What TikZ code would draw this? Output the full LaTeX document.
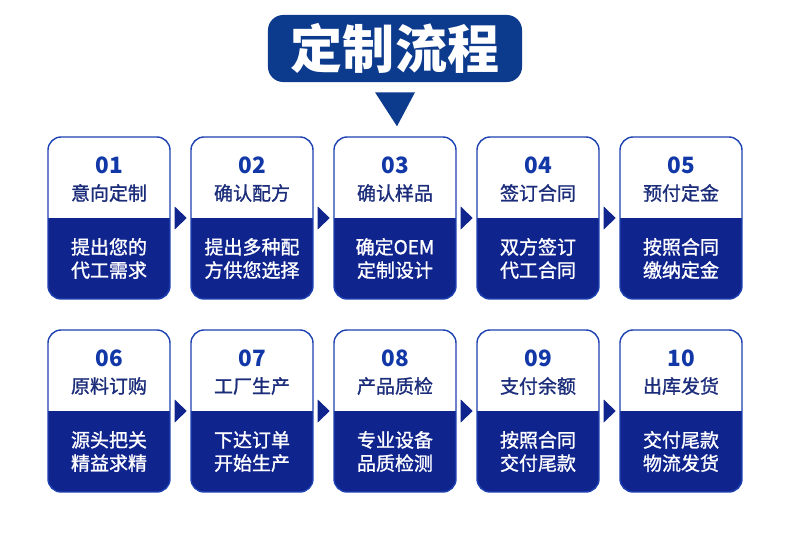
\documentclass[tikz,border=0pt]{standalone}
\usepackage{fontspec}
\setmainfont{Noto Sans CJK SC}
\newfontfamily\cjkmed[FakeBold=1.2]{Noto Sans CJK SC}
\usetikzlibrary{calc}
\definecolor{headblue}{RGB}{12,58,140}
\definecolor{cardblue}{RGB}{16,36,142}
\definecolor{edgeblue}{RGB}{30,66,178}
\definecolor{numblue}{RGB}{18,56,168}
\definecolor{stepnavy}{RGB}{27,44,122}
\begin{document}
\begin{tikzpicture}[x = 0.025cm, y = -0.025cm,
                        head/.style = {rectangle, rounded corners = 0.38cm, fill = headblue, text = white,
                                       minimum width = 6.35cm, minimum height = 1.675cm,
                                       font = \fontsize{37}{40}\selectfont\bfseries},
                        card/.style = {rectangle, rounded corners = 0.33cm, draw = edgeblue, line width = 1pt,
                                       fill = white, minimum width = 3.05cm, minimum height = 4.05cm,
                                       path picture = {\fill [cardblue, sharp corners] (path picture bounding box.west)
                                                       rectangle (path picture bounding box.south east);}},
                        num/.style = {text = numblue, font = \fontsize{16}{18}\selectfont\bfseries},
                        stepname/.style = {text = stepnavy, font = \fontsize{13.5}{16}\selectfont\cjkmed},
                        body/.style = {text = white, align = center, font = \fontsize{13.5}{16.5}\selectfont\cjkmed},
                        tip/.style = {fill = cardblue}]
      \useasboundingbox (0, 0) rectangle (790, 540);
      \node [head] (title) at (395, 48.5){定制流程};
      \fill [tip, fill = headblue] ($(title.south) + (-20, 10)$) -- ($(title.south) + (20, 10)$) -- ($(title.south) + (2, 44)$) -- cycle;
      % first row
      \node [card] (c1) at (109, 218){};
      \node [card] (c2) at (252, 218){};
      \node [card] (c3) at (395, 218){};
      \node [card] (c4) at (538, 218){};
      \node [card] (c5) at (681, 218){};
      \node [num] (n1) at (109, 165){01};
      \node [num] (n2) at (252, 165){02};
      \node [num] (n3) at (395, 165){03};
      \node [num] (n4) at (538, 165){04};
      \node [num] (n5) at (681, 165){05};
      \node [stepname] (s1) at (109, 193){意向定制};
      \node [stepname] (s2) at (252, 193){确认配方};
      \node [stepname] (s3) at (395, 193){确认样品};
      \node [stepname] (s4) at (538, 193){签订合同};
      \node [stepname] (s5) at (681, 193){预付定金};
      \node [body] (b1) at (109, 258.5){提出您的\\代工需求};
      \node [body] (b2) at (252, 258.5){提出多种配\\方供您选择};
      \node [body] (b3) at (395, 258.5){确定OEM\\定制设计};
      \node [body] (b4) at (538, 258.5){双方签订\\代工合同};
      \node [body] (b5) at (681, 258.5){按照合同\\缴纳定金};
      % second row
      \node [card] (c6) at (109, 411){};
      \node [card] (c7) at (252, 411){};
      \node [card] (c8) at (395, 411){};
      \node [card] (c9) at (538, 411){};
      \node [card] (c10) at (681, 411){};
      \node [num] (n6) at (109, 358){06};
      \node [num] (n7) at (252, 358){07};
      \node [num] (n8) at (395, 358){08};
      \node [num] (n9) at (538, 358){09};
      \node [num] (n10) at (681, 358){10};
      \node [stepname] (s6) at (109, 386){原料订购};
      \node [stepname] (s7) at (252, 386){工厂生产};
      \node [stepname] (s8) at (395, 386){产品质检};
      \node [stepname] (s9) at (538, 386){支付余额};
      \node [stepname] (s10) at (681, 386){出库发货};
      \node [body] (b6) at (109, 451.5){源头把关\\精益求精};
      \node [body] (b7) at (252, 451.5){下达订单\\开始生产};
      \node [body] (b8) at (395, 451.5){专业设备\\品质检测};
      \node [body] (b9) at (538, 451.5){按照合同\\交付尾款};
      \node [body] (b10) at (681, 451.5){交付尾款\\物流发货};
      % arrows between cards
      \fill [tip] ($(c1.east) + (4, -11.5)$) -- ($(c1.east) + (16, 0)$) -- ($(c1.east) + (4, 11.5)$) -- cycle;
      \fill [tip] ($(c2.east) + (4, -11.5)$) -- ($(c2.east) + (16, 0)$) -- ($(c2.east) + (4, 11.5)$) -- cycle;
      \fill [tip] ($(c3.east) + (4, -11.5)$) -- ($(c3.east) + (16, 0)$) -- ($(c3.east) + (4, 11.5)$) -- cycle;
      \fill [tip] ($(c4.east) + (4, -11.5)$) -- ($(c4.east) + (16, 0)$) -- ($(c4.east) + (4, 11.5)$) -- cycle;
      \fill [tip] ($(c6.east) + (4, -11.5)$) -- ($(c6.east) + (16, 0)$) -- ($(c6.east) + (4, 11.5)$) -- cycle;
      \fill [tip] ($(c7.east) + (4, -11.5)$) -- ($(c7.east) + (16, 0)$) -- ($(c7.east) + (4, 11.5)$) -- cycle;
      \fill [tip] ($(c8.east) + (4, -11.5)$) -- ($(c8.east) + (16, 0)$) -- ($(c8.east) + (4, 11.5)$) -- cycle;
      \fill [tip] ($(c9.east) + (4, -11.5)$) -- ($(c9.east) + (16, 0)$) -- ($(c9.east) + (4, 11.5)$) -- cycle;
    \end{tikzpicture}
\end{document}
